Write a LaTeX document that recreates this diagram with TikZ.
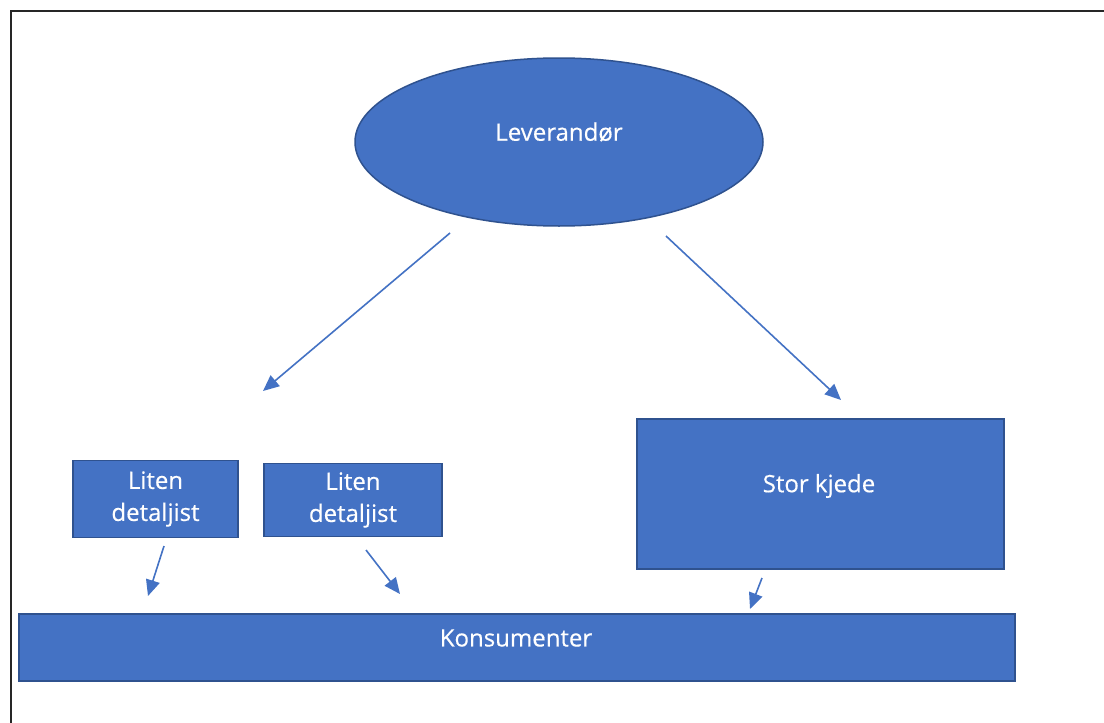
\documentclass[tikz,border=0pt]{standalone}
\usepackage{fontspec}
\setmainfont{Open Sans}
\newfontfamily\lblfont{Open Sans}[FakeBold=0.4]
\usetikzlibrary{shapes.geometric,arrows.meta}
\definecolor{fillblue}{HTML}{4472C4}
\definecolor{edgeblue}{HTML}{2F528F}
\begin{document}
\begin{tikzpicture}[x=1pt,y=-1pt,
  lbl/.style={text=white,font=\lblfont\fontsize{24}{32}\selectfont},
  shp/.style={fill=fillblue,draw=edgeblue,line width=1.5pt,inner sep=0pt},
  arr/.style={draw=fillblue,line width=1.6pt,-{Triangle[length=16pt,width=14pt]}}]
\useasboundingbox (0,0) rectangle (1104,723);
\clip (0,0) rectangle (1104,723);
\fill[white] (0,0) rectangle (1104,723);
\draw[line width=2pt,black!85] (11,730) -- (11,11) -- (1110,11);
\node[shp,ellipse,minimum width=408pt,minimum height=168pt] (lev) at (559,142) {};
\node[lbl] (levt) at (559,132) {Leverandør};
\node[shp,lbl,minimum width=165pt,minimum height=77pt,align=center] (l1) at (155.5,499) {Liten\\detaljist};
\node[shp,lbl,minimum width=178pt,minimum height=73pt,align=center] (l2) at (353,500) {Liten\\detaljist};
\node[shp,minimum width=367pt,minimum height=150pt] (sk) at (820.5,494) {};
\node[lbl] (skt) at (819,486) {Stor kjede};
\node[shp,minimum width=996pt,minimum height=67pt] (kon) at (517,647.5) {};
\node[lbl] (kont) at (516,638) {Konsumenter};
\coordinate (a1s) at (450,233); \coordinate (a1e) at (263,391);
\coordinate (a2s) at (666,236); \coordinate (a2e) at (841,400);
\coordinate (a3s) at (164,546); \coordinate (a3e) at (148,596);
\coordinate (a4s) at (366,550); \coordinate (a4e) at (400,594);
\coordinate (a5s) at (762,578); \coordinate (a5e) at (750,609);
\draw[arr] (a1s) -- (a1e);
\draw[arr] (a2s) -- (a2e);
\draw[arr] (a3s) -- (a3e);
\draw[arr] (a4s) -- (a4e);
\draw[arr] (a5s) -- (a5e);
\end{tikzpicture}
\end{document}
